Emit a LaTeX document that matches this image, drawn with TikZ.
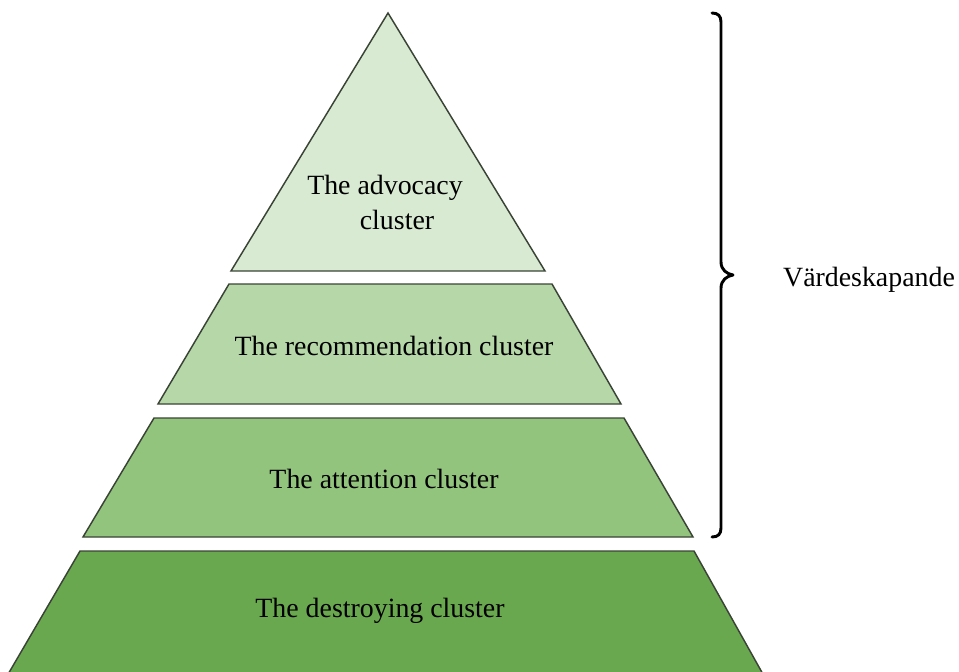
\documentclass[tikz,border=0pt]{standalone}
\usepackage{fontspec}
\setmainfont{Liberation Serif}
\definecolor{gA}{HTML}{D9EAD3}
\definecolor{gB}{HTML}{B6D7A8}
\definecolor{gC}{HTML}{93C47D}
\definecolor{gD}{HTML}{6AA84F}
\definecolor{edge}{HTML}{3A4436}
\begin{document}
\begin{tikzpicture}[x=0.75pt,y=-0.75pt,
  layer/.style={draw=edge,line width=1.1pt,line join=miter},
  lbl/.style={font=\fontsize{20.9}{24}\selectfont,text=black,inner sep=0pt},
  brace/.style={draw=black,line width=2.2pt,line cap=round,line join=round}]
\useasboundingbox (0,0) rectangle (959,671);
\clip (0,0) rectangle (959,671);
\path[layer,fill=gA] (388,13) -- (545,271) -- (231,271) -- cycle;
\path[layer,fill=gB] (229,284) -- (552,284) -- (621,404) -- (158,404) -- cycle;
\path[layer,fill=gC] (154,418) -- (624,418) -- (693,537) -- (83,537) -- cycle;
\path[layer,fill=gD] (80,551) -- (694,551) -- (764,676) -- (7,676) -- cycle;
\node[lbl] (adv1) at (385,188) {The advocacy};
\node[lbl] (adv2) at (397,220) {cluster};
\node[lbl] (rec) at (394,346) {The recommendation cluster};
\node[lbl] (att) at (384,479) {The attention cluster};
\node[lbl] (des) at (380,611) {The destroying cluster};
\node[lbl] (vard) at (869,280) {Värdeskapande};
\path[brace] (712,13) .. controls (718,13) and (721,16) .. (721,22)
  -- (721,262) .. controls (721,270) and (727,274) .. (733,275)
  .. controls (727,276) and (721,280) .. (721,288)
  -- (721,528) .. controls (721,534) and (718,537) .. (712,537);
\end{tikzpicture}
\end{document}
